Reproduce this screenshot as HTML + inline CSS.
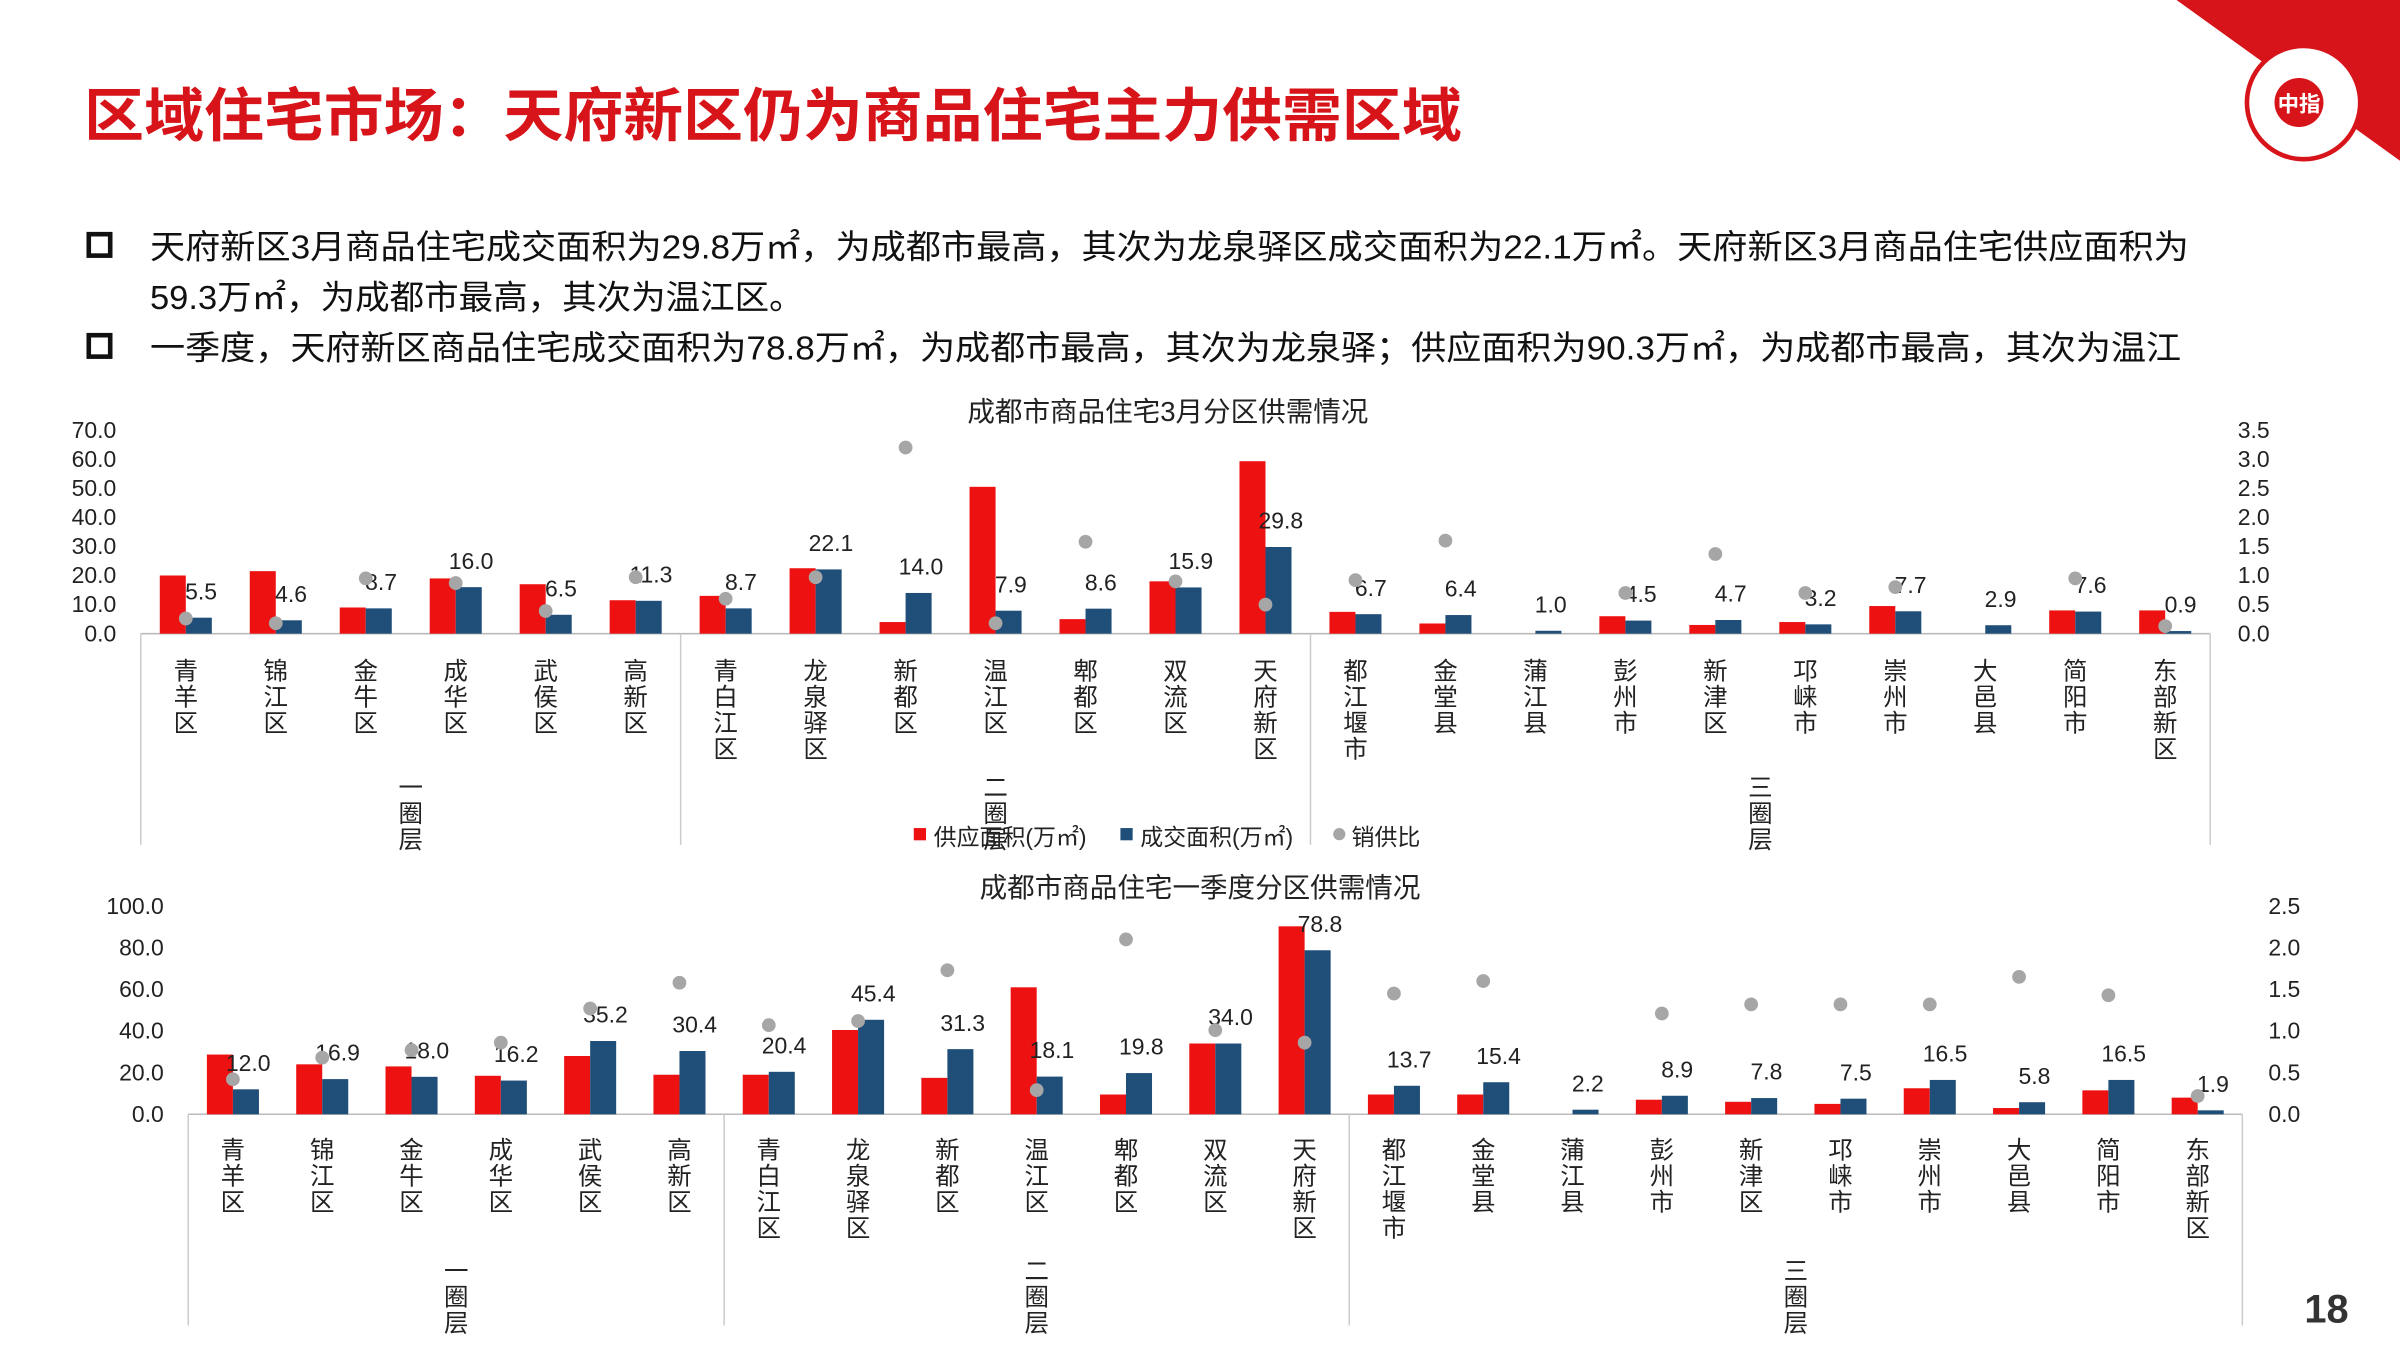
<!DOCTYPE html>
<html><head><meta charset="utf-8"><style>
html,body{margin:0;padding:0;background:#fff}
svg{display:block}
text{font-family:"Liberation Sans","Noto Sans CJK SC",sans-serif}
</style></head><body>
<svg id="s" width="2400" height="1350" viewBox="0 0 1568 882" xmlns="http://www.w3.org/2000/svg">
<rect width="1568" height="882" fill="#fff"/>
<polygon points="1422,0 1568,0 1568,105" fill="#d7141a"/>
<circle cx="1505" cy="67" r="37" fill="#fff" stroke="#d7141a" stroke-width="3"/>
<circle cx="1502" cy="67" r="16" fill="#d7141a"/>
<text x="1502" y="73" font-size="14" fill="#fff" text-anchor="middle" font-weight="bold">中指</text>
<text x="55" y="89" font-size="38" font-weight="bold" fill="#d7141a" textLength="900" lengthAdjust="spacingAndGlyphs">区域住宅市场：天府新区仍为商品住宅主力供需区域</text>
<g font-size="22" fill="#111">
<rect x="58" y="153" width="14" height="14" fill="none" stroke="#111" stroke-width="3"/>
<text x="98" y="169" textLength="1332" lengthAdjust="spacingAndGlyphs">天府新区3月商品住宅成交面积为29.8万㎡，为成都市最高，其次为龙泉驿区成交面积为22.1万㎡。天府新区3月商品住宅供应面积为</text>
<text x="98" y="202" textLength="427" lengthAdjust="spacingAndGlyphs">59.3万㎡，为成都市最高，其次为温江区。</text>
<rect x="58" y="219" width="14" height="14" fill="none" stroke="#111" stroke-width="3"/>
<text x="98" y="235" textLength="1327" lengthAdjust="spacingAndGlyphs">一季度，天府新区商品住宅成交面积为78.8万㎡，为成都市最高，其次为龙泉驿；供应面积为90.3万㎡，为成都市最高，其次为温江</text>
</g>
<text x="1520" y="864" font-size="26" font-weight="bold" fill="#333" text-anchor="middle">18</text>
<g id="c"></g>
</svg>
<script>
var names=["青羊区","锦江区","金牛区","成华区","武侯区","高新区","青白江区","龙泉驿区","新都区","温江区","郫都区","双流区","天府新区","都江堰市","金堂县","蒲江县","彭州市","新津区","邛崃市","崇州市","大邑县","简阳市","东部新区"];
var g=document.getElementById('c'),h='';
function T(x,y,t,s,a,c){h+='<text x="'+x+'" y="'+y+'" font-size="'+s+'" text-anchor="'+(a||'middle')+'" fill="'+(c||'#222')+'">'+t+'</text>';}
function chart(o){
 var x0=o.x0,x1=o.x1,y0=o.y0,yt=o.yt;var n=23,sp=(x1-x0)/n;
 var sc=(y0-yt)/o.lmax,rs=(y0-yt)/o.rmax;
 T(o.tx,o.ty,o.title,18);
 for(var i=0;i<=o.lmax;i+=o.lstep){var y=y0-i*sc;T(o.lx,y+5,i.toFixed(1),15,'end');}
 for(var i=0;i<=o.rmax+1e-9;i+=o.rstep){var y=y0-i*rs;T(o.rx,y+5,i.toFixed(1),15,'start');}
 h+='<line x1="'+x0+'" y1="'+y0+'" x2="'+x1+'" y2="'+y0+'" stroke="#bbb"/>';
 for(var i=0;i<n;i++){var c=x0+sp*(i+0.5);
  if(o.sup[i]>0)h+='<rect x="'+(c-17)+'" y="'+(y0-o.sup[i]*sc)+'" width="17" height="'+(o.sup[i]*sc)+'" fill="#ee1111"/>';
  h+='<rect x="'+c+'" y="'+(y0-o.deal[i]*sc)+'" width="17" height="'+(o.deal[i]*sc)+'" fill="#1f4e79"/>';
  T(c+10,y0-o.deal[i]*sc-12,o.deal[i].toFixed(1),15);
  if(o.r[i]!=null)h+='<circle cx="'+c+'" cy="'+(y0-o.r[i]*rs)+'" r="4.5" fill="#a6a6a6"/>';
  for(var k=0;k<names[i].length;k++)T(c,o.ly+k*17,names[i][k],16);
 }
 [0,6,13,23].forEach(function(b){var x=x0+sp*b;h+='<line x1="'+x+'" y1="'+y0+'" x2="'+x+'" y2="'+o.gb+'" stroke="#ccc"/>';});
 [[3,'一圈层'],[9.5,'二圈层'],[18,'三圈层']].forEach(function(a){var x=x0+sp*a[0];for(var k=0;k<3;k++)T(x,o.gy+k*17,a[1][k],16);});
}
chart({x0:92,x1:1444,y0:414,yt:281,lmax:70,lstep:10,rmax:3.5,rstep:0.5,lx:76,rx:1462,tx:763,ty:275,ly:444,gb:552,gy:520,title:'成都市商品住宅3月分区供需情况',
 sup:[20,21.5,9,19,17,11.5,13,22.5,4,50.5,5,18,59.3,7.5,3.5,0,6,3,4,9.5,0,8,8],
 deal:[5.5,4.6,8.7,16,6.5,11.3,8.7,22.1,14,7.9,8.6,15.9,29.8,6.7,6.4,1,4.5,4.7,3.2,7.7,2.9,7.6,0.9],
 r:[0.26,0.18,0.95,0.87,0.39,0.97,0.6,0.97,3.2,0.18,1.58,0.9,0.5,0.92,1.6,null,0.7,1.37,0.7,0.8,null,0.95,0.13]});
h+='<rect x="597" y="541" width="8" height="8" fill="#ee1111"/>';T(610,552,'供应面积(万㎡)',15,'start');
h+='<rect x="732" y="541" width="8" height="8" fill="#1f4e79"/>';T(745,552,'成交面积(万㎡)',15,'start');
h+='<circle cx="875" cy="545" r="4" fill="#a6a6a6"/>';T(883,552,'销供比',15,'start');
chart({x0:123,x1:1465,y0:728,yt:592,lmax:100,lstep:20,rmax:2.5,rstep:0.5,lx:107,rx:1482,tx:784,ty:586,ly:757,gb:866,gy:836,title:'成都市商品住宅一季度分区供需情况',
 sup:[28.7,24,23,18.5,28,19,19,40.5,17.5,61,9.5,34,90.3,9.5,9.5,0,7,6,5,12.5,3,11.5,8],
 deal:[12,16.9,18,16.2,35.2,30.4,20.4,45.4,31.3,18.1,19.8,34,78.8,13.7,15.4,2.2,8.9,7.8,7.5,16.5,5.8,16.5,1.9],
 r:[0.42,0.68,0.77,0.86,1.27,1.58,1.07,1.12,1.73,0.29,2.1,1.01,0.86,1.45,1.6,null,1.21,1.32,1.32,1.32,1.65,1.43,0.22]});
g.innerHTML=h;
</script>
</body></html>
